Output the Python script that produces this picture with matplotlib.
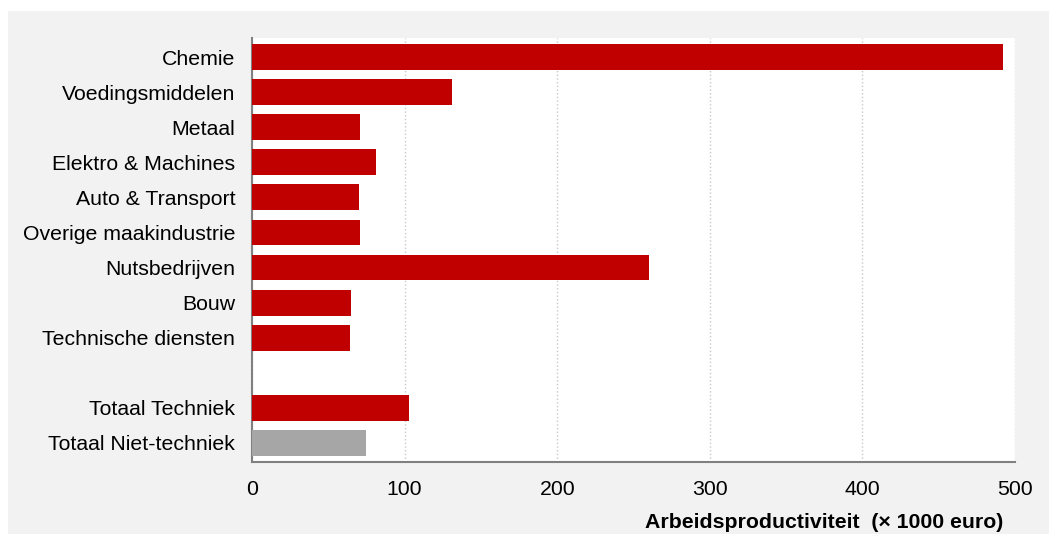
import matplotlib
matplotlib.use('Agg')
import matplotlib.pyplot as plt
from matplotlib.patches import Rectangle

plt.rcParams['font.family'] = ['Liberation Sans', 'DejaVu Sans']

categories = ['Chemie', 'Voedingsmiddelen', 'Metaal', 'Elektro & Machines',
              'Auto & Transport', 'Overige maakindustrie', 'Nutsbedrijven',
              'Bouw', 'Technische diensten', '',
              'Totaal Techniek', 'Totaal Niet-techniek']
values = [492, 131, 71, 81, 70, 71, 260, 65, 64, None, 103, 75]
colors = ['#C00000'] * 11 + ['#A6A6A6']
xticks = [0, 100, 200, 300, 400, 500]

fig = plt.figure(figsize=(10.49, 5.34), dpi=100)
fig.patch.set_facecolor('white')
fig.patches.append(Rectangle((8 / 1049, 0), 1, 1 - 11 / 534,
                             transform=fig.transFigure, facecolor='#F2F2F2',
                             edgecolor='none', zorder=-1))

ax = fig.add_axes([252 / 1049, (534 - 462) / 534, 763 / 1049, 424 / 534])
ax.set_facecolor('white')

ypos = list(range(len(categories)))
for y, v, c in zip(ypos, values, colors):
    if v is None:
        continue
    ax.barh(y, v, height=0.74, color=c, zorder=3)

ax.set_yticks(ypos)
ax.set_yticklabels(categories, fontsize=15.3)
ax.set_ylim(len(categories) - 0.45, -0.55)
ax.set_xlim(0, 500)
ax.set_xticks(xticks)
ax.set_xticklabels([str(t) for t in xticks], fontsize=15.3)
ax.tick_params(axis='y', length=0, pad=12)
ax.tick_params(axis='x', length=0, pad=13)

ax.grid(axis='x', linestyle=':', color='#C8C8C8', linewidth=1, zorder=0)
for s in ['top', 'right']:
    ax.spines[s].set_visible(False)
for s in ['left', 'bottom']:
    ax.spines[s].set_color('#808080')
    ax.spines[s].set_linewidth(1.5)

fig.text(1003 / 1049, (534 - 523) / 534, 'Arbeidsproductiviteit  (× 1000 euro)',
         ha='right', va='center', fontsize=15.3, fontweight='bold')

fig.savefig('out.png', dpi=100, facecolor=fig.get_facecolor())
